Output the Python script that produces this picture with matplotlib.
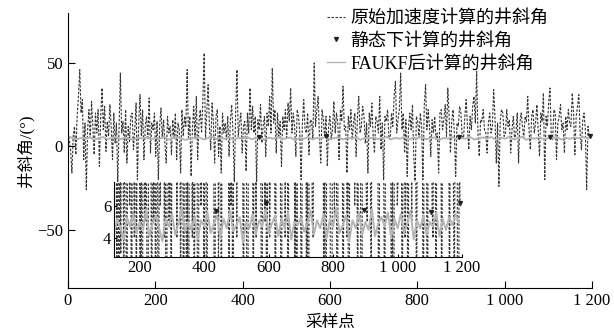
import matplotlib
matplotlib.use('Agg')
import matplotlib.pyplot as plt
from matplotlib.lines import Line2D
import numpy as np

plt.rcParams['font.family'] = ['Liberation Serif', 'Noto Sans CJK SC']
plt.rcParams['axes.unicode_minus'] = True

# 原始加速度计算的井斜角, one value every 3 samples
raw_angle = [
    8, 4, -2, -16, 6, 12, -5, 18, 30, 46, 20, 28, -8, 14, -26, 10, 22, 5, 27, 12,
    -5, 20, 8, 22, -12, 18, 35, 10, 24, -3, 15, 6, 25, 12, -8, 20, 2, 14, -22, 10,
    44, 8, 15, -4, 22, -10, 12, 3, 18, 20, -2, 10, 26, -20, 14, 31, 6, 22, -8, 12,
    18, 4, 29, -4, 14, 10, 20, -6, 15, -20, 12, 23, 5, 16, 2, -10, 18, 8, 12, -5,
    16, 5, 20, -8, 14, 10, -16, 22, 6, 18, 12, 46, 4, 18, -18, 10, 24, 5, 30, -8,
    14, 22, 8, 28, 56, 4, 20, 37, 12, -2, 26, 15, -10, 18, 22, -6, 12, -16, 20, 8,
    14, 4, 18, -6, 16, 25, 8, -22, 20, 46, 6, 14, 20, -4, 12, 15, -15, 20, 8, 35,
    10, 24, 8, 18, -22, 16, 10, 25, 2, 12, 18, -6, 20, 12, 30, 8, 47, 14, 22, -4,
    20, 6, 15, -12, 18, 10, 22, 4, 26, 15, 35, 8, 20, 12, -6, 22, 18, 8, -20, 14,
    28, 10, 8, 20, -5, 16, 15, 4, 50, 12, 22, 30, 6, -10, 22, 16, 5, 18, -12, 12,
    18, 4, 10, 27, 8, 20, 14, -8, 22, 15, 36, 10, 12, -16, 18, 10, 22, 4, 14, 20,
    -6, 18, 30, 8, 12, 24, 18, 2, 14, -16, 20, 12, 26, 6, -4, 18, 15, 8, 30, -2,
    14, -20, 18, 15, 22, 6, 4, 20, 12, 30, 39, 8, 16, 22, 44, 10, 20, -4, 16, -18,
    12, 20, 10, 25, -6, -22, 18, 15, 5, 20, 12, -20, 24, 37, 10, 22, 12, -6, 16, 8,
    18, 4, 8, -16, 20, 22, 10, 16, 25, 6, 35, 18, -4, 15, 22, 8, -18, 14, 12, 24,
    20, 6, 5, 18, 28, 12, -2, 18, 10, 24, 30, 14, 45, 8, -6, 16, 15, 22, 10, 8,
    -4, 14, 20, 8, 12, 34, 18, -10, 14, -24, 15, 22, 20, 6, 8, 22, 12, 16, -4, 10,
    18, 4, 8, 20, -10, 14, 20, 12, 5, 18, 15, 30, 10, -2, 18, 22, 8, 14, 25, 10,
    -6, 20, 15, 32, -20, 18, 12, 26, 35, 6, 4, 22, 20, -8, 14, 18, 25, 10, 14, -4,
    18, 10, 22, 14, 12, 32, 20, -5, 18, 24, 31, 8, -2, 16, 20, 10, -26, 12, 6, 6,
]
raw_samples = np.arange(len(raw_angle)) * 3

# FAUKF后计算的井斜角, one value every 10 samples
faukf_angle = [
    6.2, 5.0, 4.3, 5.1, 4.6, 5.4, 4.0, 4.8, 5.6, 4.4,
    4.9, 5.7, 4.2, 5.2, 4.6, 3.9, 5.3, 4.7, 5.5, 4.3,
    5.0, 4.5, 5.8, 4.1, 4.9, 5.4, 4.6, 3.8, 5.2, 4.7,
    5.5, 4.2, 4.9, 5.9, 4.4, 5.0, 4.5, 5.3, 3.9, 5.1,
    4.7, 5.6, 4.3, 4.9, 5.4, 4.0, 5.2, 4.6, 5.7, 4.4,
    4.8, 5.3, 3.7, 5.0, 4.6, 5.5, 4.2, 5.1, 4.7, 5.8,
    4.3, 4.9, 5.4, 4.1, 5.2, 4.6, 5.6, 3.9, 5.0, 4.8,
    5.3, 4.4, 4.9, 5.7, 4.2, 5.1, 4.6, 5.5, 4.0, 5.2,
    4.7, 5.9, 4.3, 4.8, 5.4, 3.8, 5.1, 4.6, 5.6, 4.2,
    5.0, 4.5, 5.8, 4.1, 4.9, 5.3, 4.7, 5.6, 4.0, 5.2,
    4.6, 5.5, 4.3, 4.9, 5.7, 3.9, 5.1, 4.6, 5.4, 4.2,
    5.0, 4.7, 5.6, 4.1, 5.2, 4.5, 5.3, 4.8, 5.5, 5.0,
]
faukf_samples = np.arange(len(faukf_angle)) * 10

# 静态下计算的井斜角
static_samples = [437, 592, 895, 1104, 1195]
static_angle = [5.7, 6.2, 5.75, 5.6, 6.2]

xticks = [0, 200, 400, 600, 800, 1000, 1200]
xticklabels = ['0', '200', '400', '600', '800', '1 000', '1 200']
inset_xticks = [200, 400, 600, 800, 1000, 1200]
inset_xticklabels = ['200', '400', '600', '800', '1 000', '1 200']

raw_style = dict(color='#333333', lw=0.8, ls=(0, (2.2, 1.4)))
faukf_style = dict(color='#b5b5b5', lw=1.4)
static_style = dict(ls='none', marker='v', ms=2.8, color='#222222')

fig = plt.figure(figsize=(6.14, 3.33), dpi=100)
ax = fig.add_axes([0.1107, 0.135, 0.8533, 0.826])

ax.plot(raw_samples, raw_angle, **raw_style)
ax.plot(faukf_samples, faukf_angle, **faukf_style)
ax.plot(static_samples, static_angle, **static_style)

ax.set_xlim(0, 1200)
ax.set_ylim(-85, 80)
ax.set_xticks(xticks)
ax.set_xticklabels(xticklabels)
ax.set_yticks([-50, 0, 50])
ax.spines['top'].set_visible(False)
ax.spines['right'].set_visible(False)
ax.tick_params(direction='in', length=5, labelsize=12)
ax.set_xlabel('采样点', fontsize=12, labelpad=4)
ax.set_ylabel('井斜角/(°)', fontsize=12, labelpad=2)

handles = [Line2D([], [], **raw_style),
           Line2D([], [], **static_style),
           Line2D([], [], color='#b5b5b5', lw=1.0)]
labels = ['原始加速度计算的井斜角', '静态下计算的井斜角', 'FAUKF后计算的井斜角']
fig.legend(handles, labels, loc='upper left', bbox_to_anchor=(0.516, 1.0),
           frameon=False, fontsize=13, handlelength=1.0, handletextpad=0.3,
           labelspacing=0.32, borderaxespad=0.15)

# 局部放大
ins = fig.add_axes([0.1857, 0.228, 0.5668, 0.2255])
ins.set_facecolor('white')
ins.plot(raw_samples, raw_angle, **raw_style)
ins.plot(faukf_samples, faukf_angle, **faukf_style)
ins.plot(static_samples, static_angle, **static_style)
ins.set_xlim(120, 1195)
ins.set_ylim(2.8, 7.5)
ins.set_xticks(inset_xticks)
ins.set_xticklabels(inset_xticklabels)
ins.set_yticks([4, 6])
ins.spines['top'].set_visible(False)
ins.spines['right'].set_visible(False)
ins.tick_params(direction='in', length=2, labelsize=12, pad=2)

fig.savefig('out.png', dpi=100)
